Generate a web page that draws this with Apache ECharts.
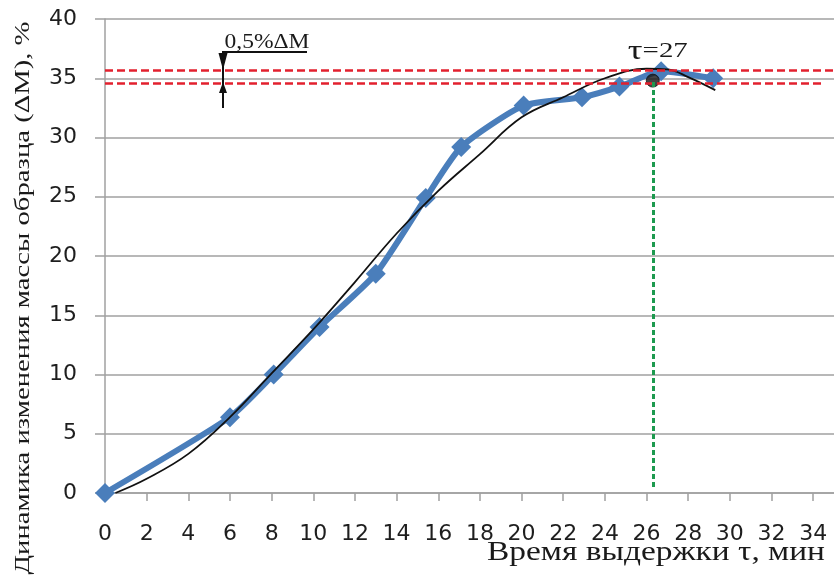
<!DOCTYPE html>
<html><head><meta charset="utf-8">
<script src="https://cdn.jsdelivr.net/npm/echarts@6/dist/echarts.min.js"></script>
<style>html,body{margin:0;padding:0;background:#fff}#c{width:834px;height:581px}</style>
</head><body><div id="c"></div>
<script>
// ---- data ----
const measuredTime = [0, 6, 8.1, 10.3, 13, 15.4, 17.1, 20.1, 22.9, 24.7, 26.7, 29.2];
const measuredMass = [0, 6.4, 10, 14, 18.5, 24.9, 29.2, 32.7, 33.4, 34.3, 35.6, 35.0];
const trendTime = [0.5, 2, 4, 6, 8, 10, 12, 14, 16, 18, 20, 22, 24, 26, 27, 28, 29.3];
const trendMass = [0, 1.2, 3.3, 6.4, 10.1, 13.8, 17.8, 21.9, 25.5, 28.6, 31.7, 33.4, 35.0, 35.8, 35.75, 35.1, 34.0];
const xTickValues = [0, 2, 4, 6, 8, 10, 12, 14, 16, 18, 20, 22, 24, 26, 28, 30, 32, 34];
const yTickValues = [0, 5, 10, 15, 20, 25, 30, 35, 40];
const bandUpper = 35.7;
const bandLower = 34.6;
const stabTime = 26.3;
const stabMass = 34.8;
const stabLabel = ['τ', '=27'];
const bandLabel = '0,5%ΔM';
const xTitle = 'Время выдержки τ, мин';
const yTitle = 'Динамика изменения массы образца (ΔM), %';

// ---- chart ----
const GRAY = '#a0a0a0';
const SANS = '"DejaVu Sans", "Open Sans", sans-serif';
const SERIF = '"Liberation Serif", "Times New Roman", serif';
const chart = echarts.init(document.getElementById('c'), null, {renderer: 'canvas'});

const option = {
  animation: false,
  backgroundColor: '#ffffff',
  grid: {left: 105, top: 19, bottom: 88, right: -6, containLabel: false},
  xAxis: {
    type: 'value', min: 0, max: 35, interval: 2,
    axisLine: {show: true, lineStyle: {color: GRAY, width: 1.5}},
    axisTick: {show: true, length: 8, lineStyle: {color: GRAY, width: 1.5}},
    splitLine: {show: false},
    axisLabel: {
      showMaxLabel: false, margin: 30, fontSize: 22, fontFamily: SANS, color: '#1e1e1e',
      formatter: v => xTickValues.includes(v) ? String(v) : ''
    }
  },
  yAxis: {
    type: 'value', min: yTickValues[0], max: yTickValues[yTickValues.length - 1], interval: 5,
    axisLine: {show: true, lineStyle: {color: GRAY, width: 1.5}},
    axisTick: {show: true, length: 10, lineStyle: {color: GRAY, width: 1.5}},
    splitLine: {show: true, lineStyle: {color: GRAY, width: 1.5}},
    axisLabel: {margin: 28, fontSize: 22, fontFamily: SANS, color: '#1e1e1e'}
  },
  series: [
    {
      type: 'line', z: 1, silent: true, clip: false,
      data: [[0, bandUpper]], showSymbol: false, lineStyle: {opacity: 0},
      markLine: {
        silent: true, symbol: ['none', 'none'], label: {show: false},
        emphasis: {disabled: true},
        data: [
          [{coord: [0, bandUpper], lineStyle: {color: '#e2202e', width: 2.5, type: [8, 4]}},
           {coord: [35, bandUpper]}],
          [{coord: [0, bandLower], lineStyle: {color: '#e2202e', width: 2.5, type: [8, 4]}},
           {coord: [34.4, bandLower]}],
          [{coord: [stabTime, 0.5], lineStyle: {color: '#1d9a4f', width: 3, type: [5, 3]}},
           {coord: [stabTime, stabMass]}]
        ]
      }
    },
    {
      type: 'line', z: 2, clip: false, smooth: 0.2,
      data: measuredTime.map((t, i) => [t, measuredMass[i]]),
      symbol: 'diamond', symbolSize: 20, showAllSymbol: true,
      itemStyle: {color: '#4a7ebb'},
      lineStyle: {color: '#4a7ebb', width: 6}
    },
    {
      type: 'line', z: 3, clip: false, smooth: 0.4, showSymbol: false,
      data: trendTime.map((t, i) => [t, trendMass[i]]),
      lineStyle: {color: '#111111', width: 1.8}
    },
    {
      type: 'scatter', z: 4, clip: false,
      data: [[stabTime, stabMass]],
      symbol: 'circle', symbolSize: 13,
      itemStyle: {color: '#151515', borderColor: '#151515', borderWidth: 1}
    }
  ]
};
chart.setOption(option);

// ---- annotations placed through the axes ----
const px = (x, y) => chart.convertToPixel({gridIndex: 0}, [x, y]);
const mctx = document.createElement('canvas').getContext('2d');
function textW(txt, size, fam) { mctx.font = size + 'px ' + fam; return mctx.measureText(txt).width; }

const yU = px(0, bandUpper)[1];
const yL = px(0, bandLower)[1];
const dot = px(stabTime, stabMass);

const yTitleScale = 553 / textW(yTitle, 21, SERIF);
const xTitleScale = 338 / textW(xTitle, 27, SERIF);
const bandScale = 85 / textW(bandLabel, 21, SERIF);
const stabW = textW(stabLabel[0], 28, SERIF) + textW(stabLabel[1], 22, SERIF);
const stabScale = 60 / stabW;

const arrowX = 223;
const ink = '#111111';
chart.setOption({
  graphic: [
    {type: 'text', x: 23, y: 298, rotation: Math.PI / 2, scaleX: yTitleScale, silent: true,
     style: {text: yTitle, fontSize: 21, fontFamily: SERIF, fill: '#1a1a1a', align: 'center', verticalAlign: 'middle', textAlign: 'center', textVerticalAlign: 'middle'}},
    {type: 'text', x: 656, y: 553, scaleX: xTitleScale, silent: true,
     style: {text: xTitle, fontSize: 27, fontFamily: SERIF, fill: '#1a1a1a', align: 'center', verticalAlign: 'middle', textAlign: 'center', textVerticalAlign: 'middle'}},
    {type: 'text', x: dot[0] + 5, y: dot[1] - 29, scaleX: stabScale, silent: true,
     style: {text: '{t|' + stabLabel[0] + '}{n|' + stabLabel[1] + '}', fill: '#1a1a1a',
       align: 'center', verticalAlign: 'middle', textAlign: 'center', textVerticalAlign: 'middle',
       rich: {t: {fontSize: 28, fontFamily: SERIF, fill: '#1a1a1a'}, n: {fontSize: 22, fontFamily: SERIF, fill: '#1a1a1a'}}}},
    {type: 'text', x: 267, y: 42, scaleX: bandScale, silent: true,
     style: {text: bandLabel, fontSize: 21, fontFamily: SERIF, fill: '#1a1a1a', align: 'center', verticalAlign: 'middle', textAlign: 'center', textVerticalAlign: 'middle'}},
    {type: 'line', silent: true, shape: {x1: arrowX - 1, y1: 52, x2: 307, y2: 52}, style: {stroke: ink, lineWidth: 2}},
    {type: 'line', silent: true, shape: {x1: arrowX, y1: 52, x2: arrowX, y2: 108}, style: {stroke: ink, lineWidth: 2}},
    {type: 'polygon', silent: true, shape: {points: [[arrowX - 4.5, 53], [arrowX + 4.5, 53], [arrowX, yU]]}, style: {fill: ink}},
    {type: 'polygon', silent: true, shape: {points: [[arrowX - 4, yL + 10], [arrowX + 4, yL + 10], [arrowX, yL - 1]]}, style: {fill: ink}}
  ]
});
</script>
</body></html>
